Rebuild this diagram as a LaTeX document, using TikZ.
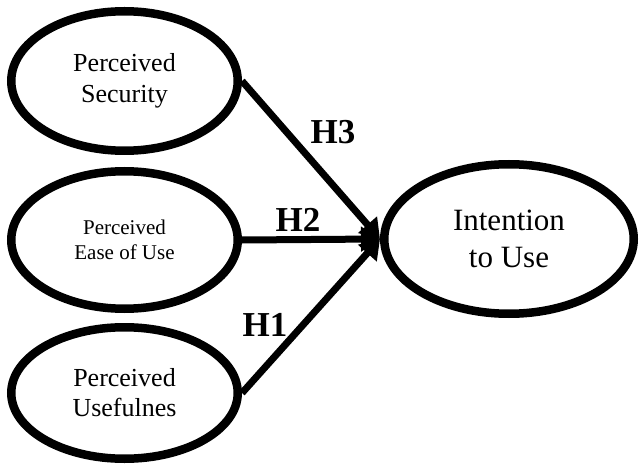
\documentclass[tikz,border=0pt]{standalone}
\usepackage{fontspec}
\setmainfont{Liberation Serif}
\usetikzlibrary{shapes.geometric,arrows.meta}

\tikzset{
  construct/.style={ellipse,draw,line width=8.5pt,align=center,inner sep=0pt,minimum width=226.5pt},
  link/.style={line width=7pt,-{Triangle[length=19pt,width=24pt]}},
  hyp/.style={font=\fontsize{35}{40}\selectfont\bfseries}
}

\begin{document}
\begin{tikzpicture}[x=1pt,y=1pt]
\useasboundingbox (0,0) rectangle (639,469);

% Constructs on the left
\node[construct,minimum height=139.5pt,font=\fontsize{26}{31}\selectfont] (sec) at (124.5,388) {Perceived\\Security};
\node[construct,minimum height=137.5pt,font=\fontsize{21}{25}\selectfont] (eou) at (124.5,229) {Perceived\\Ease of Use};
\node[construct,minimum height=131.5pt,font=\fontsize{26}{30}\selectfont] (usf) at (124.5,76) {Perceived\\Usefulnes};
% Dependent construct
\node[construct,minimum width=249.5pt,minimum height=149.5pt,font=\fontsize{31}{37}\selectfont] (itu) at (509,230) {Intention\\to Use};

% Hypothesised paths
\draw[link] (sec.east) -- (itu.west);
\draw[link] (eou.east) -- (itu.west);
\draw[link] (usf.east) -- (itu.west);
% Labels
\node[hyp] (h3) at (333,337) {H3};
\node[hyp] (h2) at (298,249) {H2};
\node[hyp] (h1) at (265,144) {H1};

\end{tikzpicture}
\end{document}
